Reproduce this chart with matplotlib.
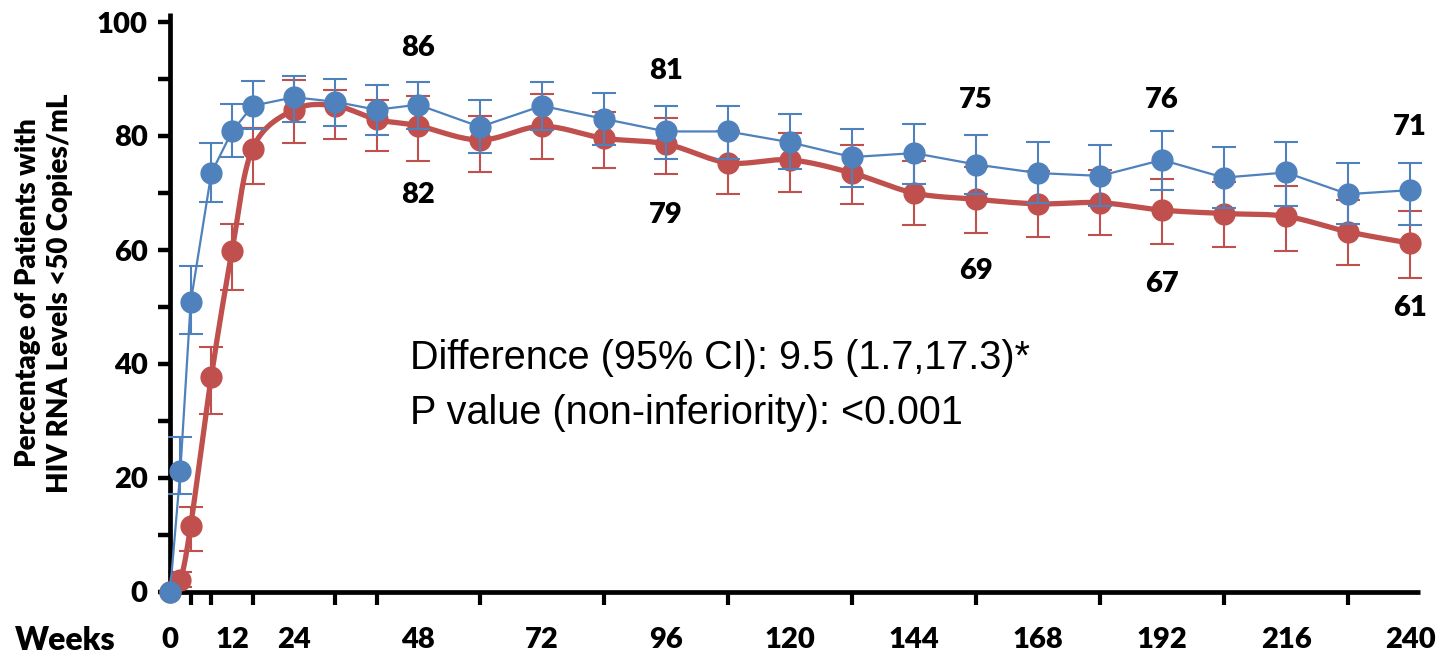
import numpy as np
import matplotlib
matplotlib.use('Agg')
import matplotlib.pyplot as plt

# DATA
weeks = [0, 2, 4, 8, 12, 16, 24, 32, 40, 48, 60, 72, 84, 96, 108, 120,
         132, 144, 156, 168, 180, 192, 204, 216, 228, 240]

blue = [0, 21.2, 50.8, 73.5, 80.8, 85.3, 86.8, 86.0, 84.6, 85.5, 81.6, 85.3,
        83.0, 80.8, 80.8, 78.9, 76.3, 77.0, 75.0, 73.5, 73.0, 75.8, 72.7,
        73.6, 69.8, 70.5]
blue_hi = [0, 27.2, 57.2, 78.8, 85.6, 89.6, 90.5, 90.0, 88.9, 89.5, 86.3, 89.4,
           87.6, 85.3, 85.3, 83.9, 81.3, 82.1, 80.2, 79.0, 78.5, 80.9, 78.1,
           79.0, 75.2, 75.3]
blue_lo = [0, 17.2, 45.3, 68.5, 76.3, 81.2, 82.5, 81.7, 80.2, 81.2, 77.1, 81.1,
           78.5, 75.9, 75.9, 74.2, 71.1, 71.6, 69.9, 68.3, 67.8, 70.6, 67.3,
           67.8, 64.6, 64.4]

red = [0, 2.1, 11.6, 37.8, 59.8, 77.8, 84.6, 85.3, 82.9, 81.8, 79.3, 81.7,
       79.6, 78.6, 75.3, 75.8, 73.5, 70.0, 68.9, 68.1, 68.3, 67.0, 66.4,
       65.9, 63.2, 61.2]
red_hi = [0, 3.5, 15.0, 42.9, 64.5, 81.4, 89.8, 88.1, 86.3, 87.0, 83.5, 87.3,
          84.2, 83.2, 80.8, 80.5, 78.5, 75.6, 74.5, 73.8, 74.0, 72.4, 72.0,
          71.2, 68.8, 66.8]
red_lo = [0, 0.8, 7.2, 31.2, 53.0, 71.5, 78.8, 79.5, 77.4, 75.7, 73.7, 76.0,
          74.3, 73.3, 69.9, 70.2, 68.0, 64.3, 62.9, 62.2, 62.7, 61.1, 60.6,
          59.9, 57.4, 55.1]

label_weeks = [48, 96, 156, 192, 240]
blue_labels = ['86', '81', '75', '76', '71']
red_labels = ['82', '79', '69', '67', '61']

tick_weeks = [0, 12, 24, 48, 72, 96, 120, 144, 168, 192, 216, 240]
minor_weeks = [4, 8, 12, 16, 24, 32, 40, 48, 60, 72, 84, 96, 108, 120, 132,
               144, 156, 168, 180, 192, 204, 216, 228, 240]

BLUE = '#4F81BD'
RED = '#C0504D'
BOLD = 'Lato'


def smooth_curve(xs, ys, n=30):
    ''' Excel-style smoothed line (Bezier with 1/6 neighbour handles) '''
    pts = np.column_stack([xs, ys]).astype(float)
    pts = np.vstack([pts[0], pts, pts[-1]])
    t = np.linspace(0, 1, n)[:, None]
    out = []
    for i in range(1, len(pts) - 2):
        p0, p1, p2, p3 = pts[i - 1], pts[i], pts[i + 1], pts[i + 2]
        c1 = p1 + (p2 - p0) / 6
        c2 = p2 - (p3 - p1) / 6
        seg = (1 - t)**3 * p1 + 3 * (1 - t)**2 * t * c1 + 3 * (1 - t) * t**2 * c2 + t**3 * p2
        out.append(seg)
    return np.vstack(out)


W, H = 1445, 657
fig = plt.figure(figsize=(W / 100, H / 100), dpi=100)
px_week = 1240 / 240
xmax = 242
ax = fig.add_axes([170 / W, (H - 592) / H, xmax * px_week / W, 570 / H])

# red series: thick smoothed line
curve = smooth_curve(weeks, red)
ax.plot(curve[:, 0], curve[:, 1], color=RED, lw=3.8, clip_on=False, zorder=2)
r = np.array(red)
ax.errorbar(weeks[1:], red[1:],
            yerr=[r[1:] - np.array(red_lo[1:]), np.array(red_hi[1:]) - r[1:]],
            fmt='none', ecolor=RED, elinewidth=1.5, capsize=8.5, capthick=1.5,
            clip_on=False, zorder=2)
ax.plot(weeks, red, 'o', color=RED, ms=15, mec=RED, clip_on=False, zorder=3)

# blue series: thin straight line
b = np.array(blue)
ax.plot(weeks, blue, color=BLUE, lw=1.6, clip_on=False, zorder=4)
ax.errorbar(weeks[1:], blue[1:],
            yerr=[b[1:] - np.array(blue_lo[1:]), np.array(blue_hi[1:]) - b[1:]],
            fmt='none', ecolor=BLUE, elinewidth=1.5, capsize=8.5, capthick=1.5,
            clip_on=False, zorder=4)
ax.plot(weeks, blue, 'o', color=BLUE, ms=15, mec=BLUE, clip_on=False, zorder=5)

# axes
ax.set_xlim(0, xmax)
ax.set_ylim(0, 100)
for s in ['top', 'right']:
    ax.spines[s].set_visible(False)
for s in ['left', 'bottom']:
    ax.spines[s].set_linewidth(3.4)
    ax.spines[s].set_capstyle('butt')
ax.spines['left'].set_bounds(0, 101.5)

ax.set_yticks(range(0, 101, 20))
ax.set_yticks(range(10, 100, 20), minor=True)
ax.tick_params(axis='y', which='major', direction='out', length=9, width=3.2, pad=7)
ax.tick_params(axis='y', which='minor', direction='out', length=9, width=3.2)
ax.set_xticks(tick_weeks)
ax.set_xticks(minor_weeks, minor=True)
ax.tick_params(axis='x', which='minor', direction='out', length=9, width=3)
ax.tick_params(axis='x', which='major', length=0, pad=25)
for lab in ax.get_xticklabels() + ax.get_yticklabels():
    lab.set_fontfamily(BOLD)
    lab.set_fontweight('heavy')
    lab.set_fontsize(21)

ax.set_ylabel('Percentage of Patients with\nHIV RNA Levels <50 Copies/mL',
              fontfamily=BOLD, fontweight='heavy', fontsize=20,
              linespacing=1.3)
ax.yaxis.set_label_coords(-0.0776, 0.5246)
fig.text(15 / W, 1 - 640 / H, 'Weeks', fontfamily=BOLD, fontweight='heavy',
         fontsize=23, ha='left', va='center')

# value labels
blue_label_y = [95.4, 91.4, 86.3, 86.3, 81.6]
red_label_y = [69.6, 66.1, 56.3, 54.0, 49.8]
for wk, t, y in zip(label_weeks, blue_labels, blue_label_y):
    ax.text(wk, y, t, ha='center', va='center', fontfamily=BOLD,
            fontweight='heavy', fontsize=21)
for wk, t, y in zip(label_weeks, red_labels, red_label_y):
    ax.text(wk, y, t, ha='center', va='center', fontfamily=BOLD,
            fontweight='heavy', fontsize=21)

fig.text(410 / W, 1 - 358 / H, 'Difference (95% CI): 9.5 (1.7,17.3)*',
         fontfamily='Liberation Sans', fontsize=28.5, ha='left', va='center')
fig.text(410 / W, 1 - 413 / H, 'P value (non-inferiority): <0.001',
         fontfamily='Liberation Sans', fontsize=28.5, ha='left', va='center')

fig.savefig('out.png', dpi=100)
